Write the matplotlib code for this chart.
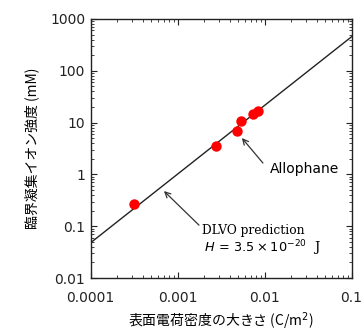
import matplotlib
matplotlib.use("Agg")
import matplotlib.pyplot as plt
from matplotlib.ticker import LogLocator, NullFormatter, FixedLocator, FixedFormatter

plt.rcParams['font.family'] = ['DejaVu Sans', 'Noto Sans CJK JP']

# Data
charge_density = [3.15e-4, 2.76e-3, 4.77e-3, 5.38e-3, 7.28e-3, 8.44e-3]
ccc = [0.268, 3.53, 6.8, 10.9, 14.7, 16.7]
line_x = [1e-4, 0.1]
line_y = [0.048, 455]
xticks = [0.0001, 0.001, 0.01, 0.1]
xticklabels = ['0.0001', '0.001', '0.01', '0.1']
yticks = [0.01, 0.1, 1, 10, 100, 1000]
yticklabels = ['0.01', '0.1', '1', '10', '100', '1000']

fig = plt.figure(figsize=(3.64, 3.33), dpi=100)
ax = fig.add_axes([0.249, 0.165, 0.717, 0.778])

ax.plot(line_x, line_y, color='#222222', lw=1.0, zorder=2)
ax.plot(charge_density, ccc, 'o', color='#ff0000', ms=7.5, mec='none', zorder=3)

ax.set_xscale('log')
ax.set_yscale('log')
ax.set_xlim(1e-4, 0.1)
ax.set_ylim(0.01, 1000)

ax.xaxis.set_major_locator(FixedLocator(xticks))
ax.xaxis.set_major_formatter(FixedFormatter(xticklabels))
ax.yaxis.set_major_locator(FixedLocator(yticks))
ax.yaxis.set_major_formatter(FixedFormatter(yticklabels))
ax.xaxis.set_minor_locator(LogLocator(base=10, subs=range(2, 10)))
ax.yaxis.set_minor_locator(LogLocator(base=10, subs=range(2, 10)))
ax.xaxis.set_minor_formatter(NullFormatter())
ax.yaxis.set_minor_formatter(NullFormatter())

ax.tick_params(which='both', direction='in', top=True, right=True, labelsize=10, colors='#222222')
ax.tick_params(axis='x', which='major', length=4, width=0.8, pad=9)
ax.tick_params(axis='y', which='major', length=4, width=0.8, pad=4)
ax.tick_params(which='minor', length=2.5, width=0.6)
for s in ax.spines.values():
    s.set_linewidth(1.0)
    s.set_color('#222222')

ax.set_xlabel('表面電荷密度の大きさ (C/m$^2$)', fontsize=10,
              family=['Noto Sans CJK JP', 'DejaVu Sans'], labelpad=4)
ax.set_ylabel('臨界凝集イオン強度 (mM)', fontsize=10,
              family=['Noto Sans CJK JP', 'DejaVu Sans'], labelpad=8)

arrow = dict(arrowstyle='->', color='#333333', lw=0.9, shrinkA=0, shrinkB=0)
ax.annotate('', xy=(5.48e-3, 5.04), xytext=(9.56e-3, 1.66), arrowprops=arrow)
ax.annotate('', xy=(6.96e-4, 0.478), xytext=(1.76e-3, 0.105), arrowprops=arrow)

ax.text(1.15e-2, 1.27, 'Allophane', fontsize=10, ha='left', va='center')
ax.text(1.9e-3, 0.0845, 'DLVO prediction', fontsize=8.8, ha='left', va='center',
        family='DejaVu Serif')
ax.text(2.01e-3, 0.038, r'$H\,=\,3.5\times10^{-20}$  J', fontsize=9.3,
        ha='left', va='center', family='DejaVu Serif')

fig.savefig('out.png', dpi=100)
